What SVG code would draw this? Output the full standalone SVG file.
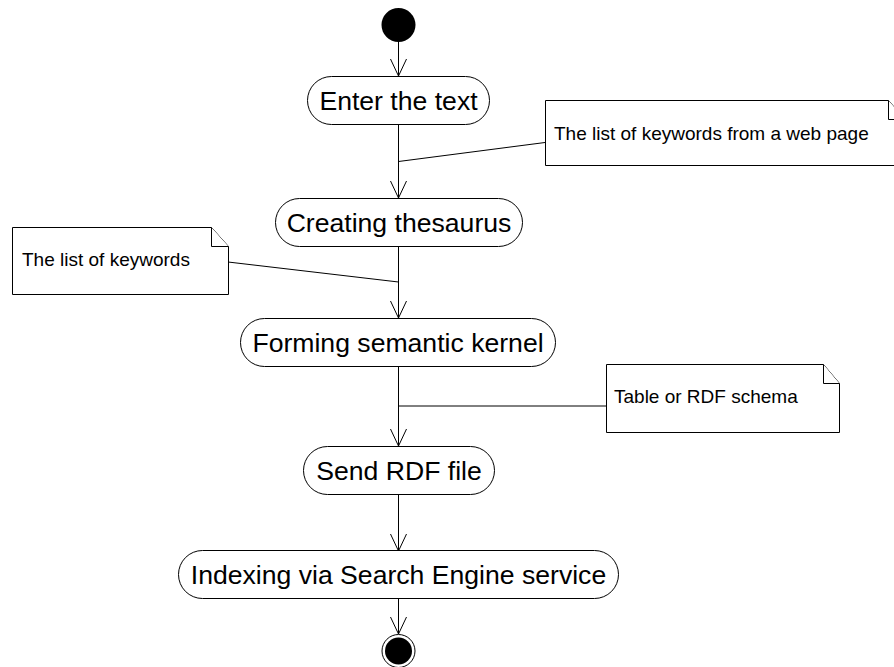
<svg xmlns="http://www.w3.org/2000/svg" width="894" height="667" viewBox="0 0 894 667">
<style>
.node{fill:#fff;stroke:#000;stroke-width:1}
.lbl{font-family:"Liberation Sans",Arial,sans-serif;font-size:26.6px;fill:#000;text-anchor:middle}
.ntxt{font-family:"Liberation Sans",Arial,sans-serif;font-size:19px;fill:#000}
.note{fill:#fff;stroke:#000;stroke-width:1}
.edge{fill:none;stroke:#000;stroke-width:1}
</style>
<defs>
<marker id="arr" markerUnits="userSpaceOnUse" markerWidth="20" markerHeight="20" viewBox="-18 -9 20 18" refX="0" refY="0" orient="auto">
<path d="M-17,-8 L0,0 L-17,8" fill="none" stroke="#000" stroke-width="1"/>
</marker>
</defs>
<rect width="894" height="667" fill="#fff"/>
<g id="connectors">
<line class="edge" x1="398.5" y1="42" x2="398.5" y2="76" marker-end="url(#arr)"/>
<line class="edge" x1="398.5" y1="124" x2="398.5" y2="198" marker-end="url(#arr)"/>
<line class="edge" x1="398.5" y1="246" x2="398.5" y2="318" marker-end="url(#arr)"/>
<line class="edge" x1="398.5" y1="366" x2="398.5" y2="446" marker-end="url(#arr)"/>
<line class="edge" x1="398.5" y1="494" x2="398.5" y2="551" marker-end="url(#arr)"/>
<line class="edge" x1="398.5" y1="598" x2="398.5" y2="634" marker-end="url(#arr)"/>
<line class="edge" x1="398.5" y1="161.5" x2="545" y2="142.5"/>
<line class="edge" x1="228" y1="262" x2="398.5" y2="282"/>
<line class="edge" x1="398.5" y1="406" x2="606" y2="406"/>
</g>
<g id="start">
<circle cx="398.5" cy="25" r="17" fill="#000"/>
</g>
<g id="enter">
<rect class="node" x="307.5" y="76.5" width="182" height="48" rx="24"/>
<text class="lbl" x="398.5" y="110">Enter the text</text>
</g>
<g id="creating">
<rect class="node" x="275.5" y="198.5" width="247" height="48" rx="24"/>
<text class="lbl" x="399" y="232">Creating thesaurus</text>
</g>
<g id="forming">
<rect class="node" x="240.5" y="318.5" width="315" height="48" rx="24"/>
<text class="lbl" x="398" y="352">Forming semantic kernel</text>
</g>
<g id="send">
<rect class="node" x="303.5" y="446.5" width="191" height="48" rx="24"/>
<text class="lbl" x="399" y="480">Send RDF file</text>
</g>
<g id="indexing">
<rect class="node" x="178.5" y="550.5" width="440" height="48" rx="24"/>
<text class="lbl" x="398.5" y="584">Indexing via Search Engine service</text>
</g>
<g id="end">
<circle cx="398.5" cy="651" r="16.5" fill="#fff" stroke="#000" stroke-width="1"/>
<circle cx="398.5" cy="651" r="13.5" fill="#000"/>
</g>
<g id="note1">
<path class="note" d="M545.5,100.5 H888.5 L905,119.5 V165.5 H545.5 Z"/>
<path class="note" d="M888.5,100.5 V119.5 H905"/>
<text class="ntxt" x="554" y="140">The list of keywords from a web page</text>
</g>
<g id="note2">
<path class="note" d="M12.5,227.5 H211.5 L228.5,246.5 V294.5 H12.5 Z"/>
<path class="note" d="M211.5,227.5 V246.5 H228.5"/>
<text class="ntxt" x="22" y="265.5">The list of keywords</text>
</g>
<g id="note3">
<path class="note" d="M606.5,364.5 H823.5 L839.5,383.5 V432.5 H606.5 Z"/>
<path class="note" d="M823.5,364.5 V383.5 H839.5"/>
<text class="ntxt" x="614" y="403">Table or RDF schema</text>
</g>
</svg>
